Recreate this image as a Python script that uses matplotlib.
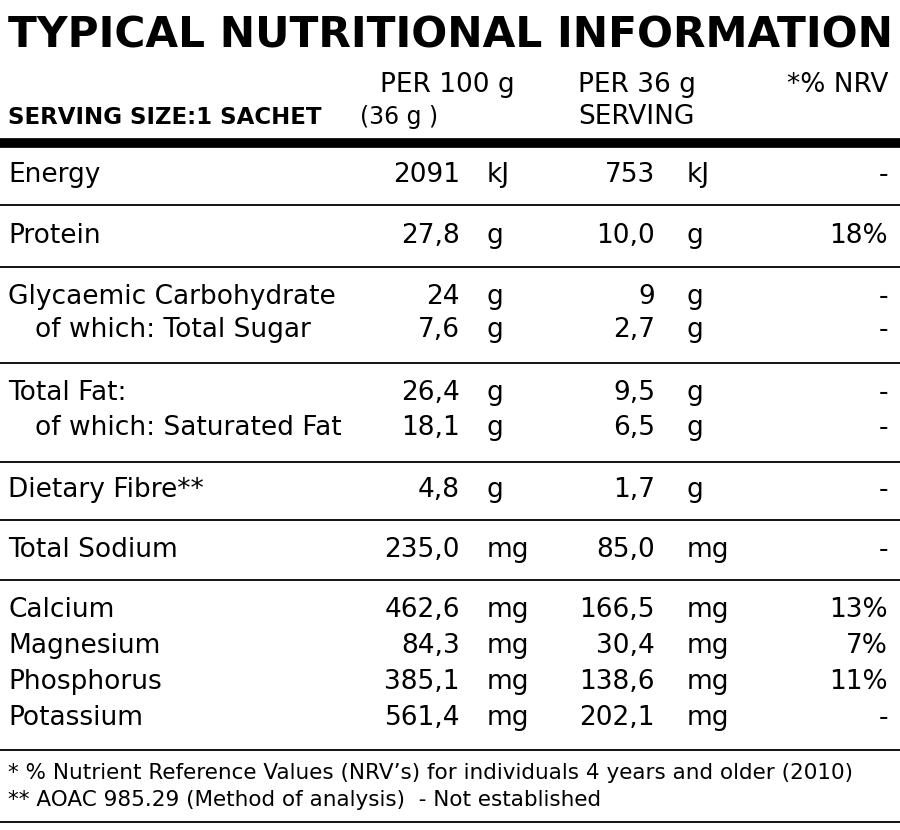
import matplotlib
matplotlib.use("Agg")
import matplotlib.pyplot as plt

title = "TYPICAL NUTRITIONAL INFORMATION"
names = ["Energy", "Protein", "Glycaemic Carbohydrate", "of which: Total Sugar",
         "Total Fat:", "of which: Saturated Fat", "Dietary Fibre**", "Total Sodium",
         "Calcium", "Magnesium", "Phosphorus", "Potassium"]
indent = [0, 0, 0, 1, 0, 1, 0, 0, 0, 0, 0, 0]
per100 = ["2091", "27,8", "24", "7,6", "26,4", "18,1", "4,8", "235,0",
          "462,6", "84,3", "385,1", "561,4"]
perserv = ["753", "10,0", "9", "2,7", "9,5", "6,5", "1,7", "85,0",
           "166,5", "30,4", "138,6", "202,1"]
units = ["kJ", "g", "g", "g", "g", "g", "g", "mg", "mg", "mg", "mg", "mg"]
nrv = ["-", "18%", "-", "-", "-", "-", "-", "-", "13%", "7%", "11%", "-"]
row_y = [175, 236, 297, 330, 393, 428, 490, 550, 610, 646, 682, 718]
sep_y = [205, 267, 363, 462, 520, 580, 750]
footnotes = ["* % Nutrient Reference Values (NRV\u2019s) for individuals 4 years and older (2010)",
             "** AOAC 985.29 (Method of analysis)  - Not established"]

fam = ["Liberation Sans Narrow", "DejaVu Sans Condensed", "DejaVu Sans"]
fig = plt.figure(figsize=(9, 8.3), dpi=100)
ax = fig.add_axes([0, 0, 1, 1])
ax.set_xlim(0, 900); ax.set_ylim(830, 0); ax.axis("off")

fs = 19
def t(x, y, s, ha="left", **kw):
    kw.setdefault("fontsize", fs)
    ax.text(x, y, s, ha=ha, va="center", family=fam, color="black", **kw)

tt = ax.text(8, 35, title, ha="left", va="center", family=fam, fontsize=40, fontweight="heavy")
fig.canvas.draw()
w = tt.get_window_extent().width
tt.set_fontsize(40 * 884 / w)

t(515, 85, "PER 100 g", ha="right")
t(578, 85, "PER 36 g")
t(888, 85, "*% NRV", ha="right")
t(8, 117, "SERVING SIZE:1 SACHET", fontweight="bold", fontsize=16.5)
t(360, 117, "(36 g )", fontsize=17)
t(578, 117, "SERVING")
ax.plot([0, 900], [143, 143], color="black", lw=7, solid_capstyle="butt")

for i, n in enumerate(names):
    y = row_y[i]
    t(8 + 27 * indent[i], y, n)
    t(460, y, per100[i], ha="right")
    t(487, y, units[i])
    t(655, y, perserv[i], ha="right")
    t(687, y, units[i])
    t(888, y, nrv[i], ha="right")
for y in sep_y:
    ax.plot([0, 900], [y, y], color="black", lw=1.3)
t(8, 773, footnotes[0], fontsize=15.5)
t(8, 800, footnotes[1], fontsize=15.5)
ax.plot([0, 900], [822, 822], color="black", lw=1.3)
fig.savefig("out.png", dpi=100)
